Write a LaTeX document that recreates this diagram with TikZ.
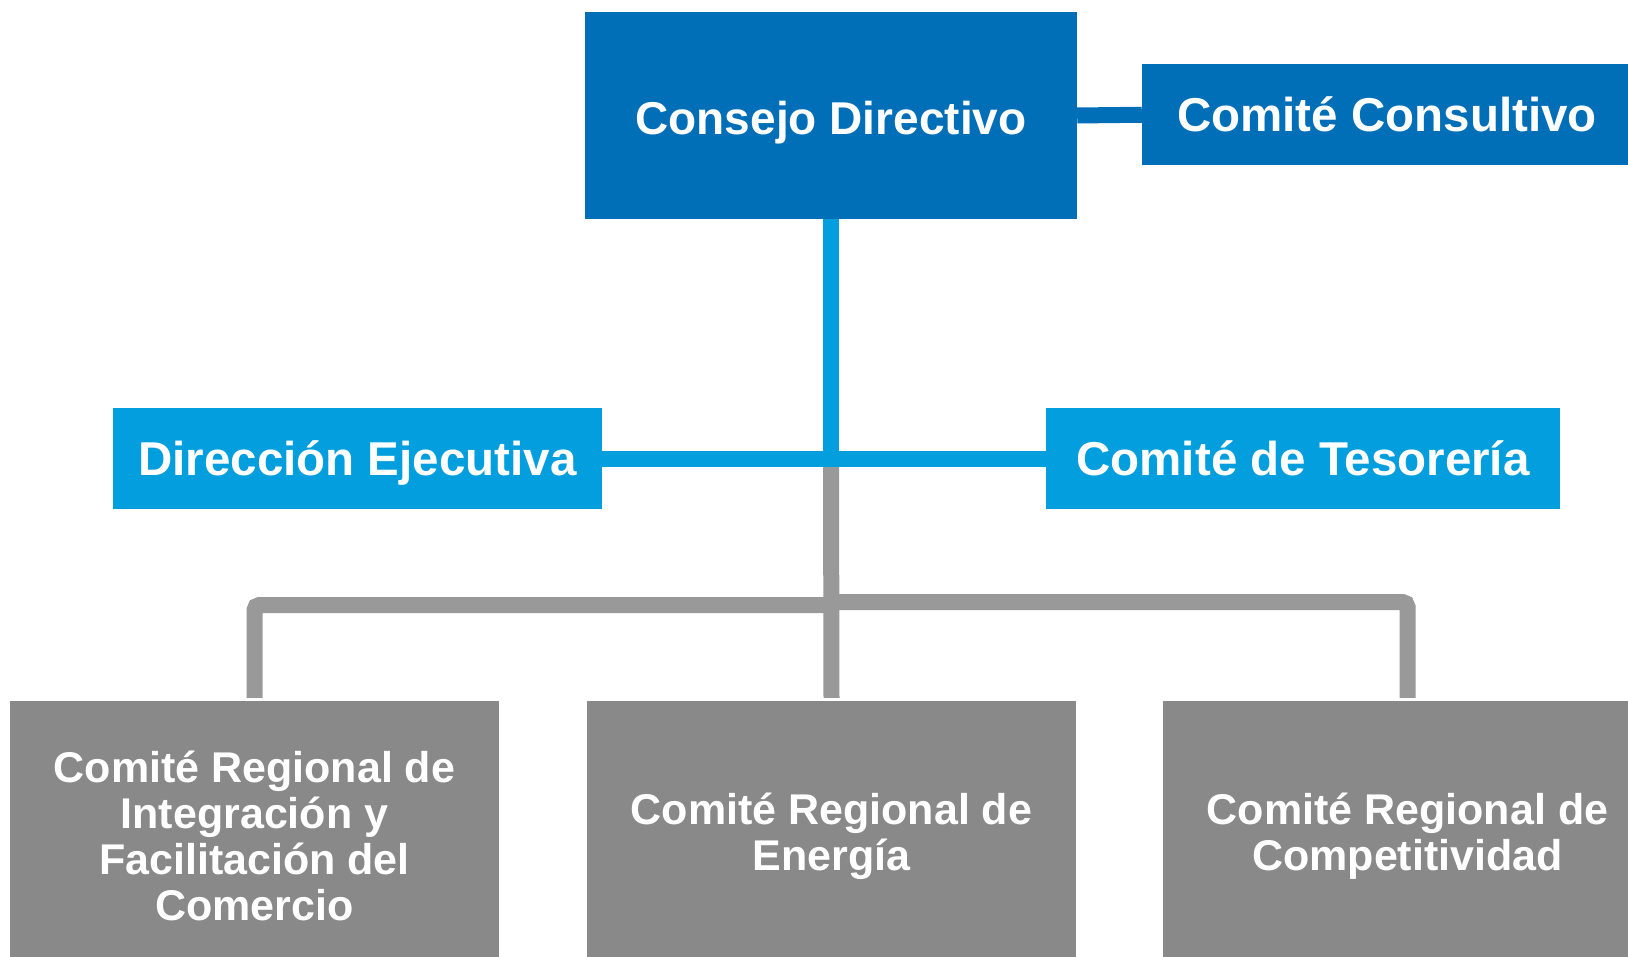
\documentclass[tikz,border=0pt]{standalone}
\usepackage{fontspec}
\setmainfont{Liberation Sans}
\definecolor{dblue}{HTML}{006FB8}
\definecolor{lblue}{HTML}{039EDD}
\definecolor{gbox}{HTML}{898989}
\definecolor{gline}{HTML}{999999}
\begin{document}
\begin{tikzpicture}[x=1pt,y=-1pt,
  boxbase/.style={inner sep=0pt, text=white},
  topbox/.style={boxbase, fill=dblue, font=\bfseries\fontsize{46}{50}\selectfont, text height=39pt, text depth=0pt},
  sidebox/.style={boxbase, fill=dblue, font=\bfseries\fontsize{47.5}{50}\selectfont, text height=34pt, text depth=0pt},
  midbox/.style={boxbase, fill=lblue, font=\bfseries\fontsize{47.5}{50}\selectfont, text height=34pt, text depth=0pt},
  lowbox/.style={boxbase, align=center, fill=gbox, font=\bfseries\fontsize{43}{46}\selectfont, minimum width=489pt, minimum height=270pt},
  conn/.style={line width=16pt},
  gconn/.style={conn, draw=gline, shorten >=3pt}
]
\useasboundingbox (0,0) rectangle (1628,957);
\fill[white] (0,0) rectangle (1628,957);
\begin{scope}
\clip (0,0) rectangle (1628,957);
% nodes
\node[topbox, minimum width=492pt, minimum height=207pt] (cd) at (831,115.5) {Consejo Directivo};
\node[sidebox, minimum width=490pt, minimum height=101.5pt] (cc) at (1387,114.75) {Comité Consultivo};
\node[midbox, minimum width=489pt, minimum height=100.5pt] (de) at (357.5,458.75) {Dirección Ejecutiva};
\node[midbox, minimum width=514pt, minimum height=100.5pt] (ct) at (1303,458.75) {Comité de Tesorería};
\node[lowbox] (b1) at (254.5,836) {Comité Regional de\\Integración y\\Facilitación del\\Comercio};
\node[lowbox] (b2) at (831.5,836) {Comité Regional de\\Energía};
\node[lowbox] (b3) at (1407.5,836) {Comité Regional de\\Competitividad};
\coordinate (j) at (831,459);
\coordinate (gl) at (831,605);
\coordinate (gr) at (831,602);
% gray connectors
\draw[gconn] (j) -- (b2.north);
\draw[gconn, rounded corners=5pt] (gl) -| (b1.north);
\draw[gconn, rounded corners=5pt] (gr) -| (b3.north);
% blue connectors
\draw[conn, draw=dblue] (cd.east) -- (cc.west);
\draw[conn, draw=lblue] (cd.south) -- (j);
\draw[conn, draw=lblue] (de.east) -- (ct.west);
\end{scope}
\end{tikzpicture}
\end{document}
